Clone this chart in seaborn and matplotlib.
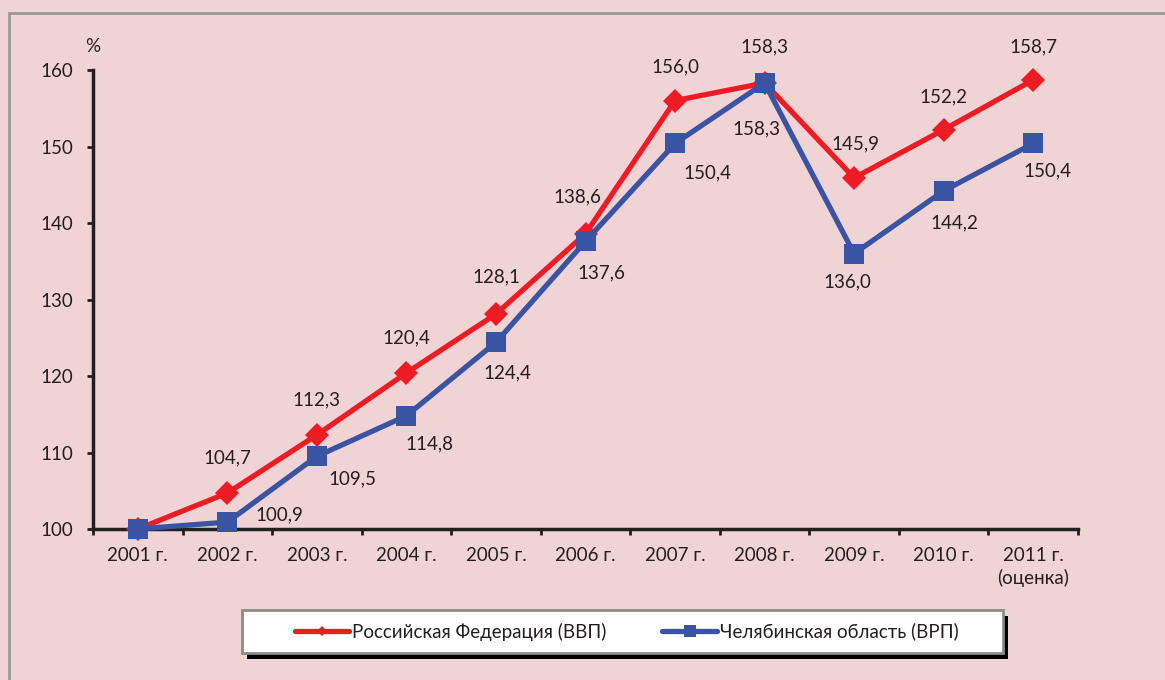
import matplotlib
matplotlib.use("Agg")
import matplotlib.pyplot as plt
import seaborn as sns
import pandas as pd
from matplotlib.patches import Rectangle

years = ["2001 г.", "2002 г.", "2003 г.", "2004 г.", "2005 г.", "2006 г.",
         "2007 г.", "2008 г.", "2009 г.", "2010 г.", "2011 г.\n(оценка)"]
rf_label = "Российская Федерация (ВВП)"
ch_label = "Челябинская область (ВРП)"
rf_values = [100.0, 104.7, 112.3, 120.4, 128.1, 138.6, 156.0, 158.3, 145.9, 152.2, 158.7]
ch_values = [100.0, 100.9, 109.5, 114.8, 124.4, 137.6, 150.4, 158.3, 136.0, 144.2, 150.4]
yticks = [100, 110, 120, 130, 140, 150, 160]

# label offsets in pixels (dx, dy; dy positive = up)
rf_offsets = [None, (0, 35), (0, 35), (0, 35), (0, 37), (-8, 37), (0, 34), (0, 36), (1, 34), (0, 33), (0, 33)]
ch_offsets = [None, (52, 7), (36, -23), (23, -28), (11, -31), (16, -32), (32, -29), (-8, -46), (-7, -28), (11, -32), (14, -27)]

bg = "#F0D3D4"
red = "#ED1C24"
blue = "#3A54A4"
dark = "#231F20"
FS = 13.5

sns.set_theme(style="white")
plt.rcParams["font.family"] = ["Lato", "DejaVu Sans"]

df = pd.DataFrame({
    "x": list(range(len(years))) * 2,
    "value": rf_values + ch_values,
    "series": [rf_label] * len(years) + [ch_label] * len(years),
})

fig = plt.figure(figsize=(11.65, 6.8), dpi=100, facecolor=bg)
ax = fig.add_axes([93 / 1165, 1 - 529 / 680, 985 / 1165, 459 / 680])
ax.set_facecolor(bg)

sns.lineplot(data=df, x="x", y="value", hue="series", style="series",
             palette={rf_label: red, ch_label: blue},
             markers={rf_label: "D", ch_label: "s"}, dashes=False,
             linewidth=3.8, markersize=14, markeredgewidth=0, ax=ax, legend=False)
for line in ax.lines:
    line.set_clip_on(False)
    line.set_zorder(3)
    if line.get_marker() == "D":
        line.set_markersize(12)
    else:
        line.set_markersize(14)

px = 0.72
for i, (v, off) in enumerate(zip(rf_values, rf_offsets)):
    if off is None:
        continue
    ax.annotate(f"{v:.1f}".replace(".", ","), (i, v), xytext=(off[0] * px, off[1] * px),
                textcoords="offset points", ha="center", va="center", fontsize=FS, color=dark)
for i, (v, off) in enumerate(zip(ch_values, ch_offsets)):
    if off is None:
        continue
    ax.annotate(f"{v:.1f}".replace(".", ","), (i, v), xytext=(off[0] * px, off[1] * px),
                textcoords="offset points", ha="center", va="center", fontsize=FS, color=dark)

ax.set_xlim(-0.5, len(years) - 0.5)
ax.set_ylim(100, 160)
ax.set_yticks(yticks)
ax.set_yticklabels([str(t) for t in yticks], fontsize=FS, color=dark)
ax.set_xticks(range(len(years)))
ax.set_xticklabels(years, fontsize=FS, color=dark, linespacing=1.35, va="top")
ax.set_xticks([i + 0.5 for i in range(-1, len(years))], minor=True)
ax.tick_params(axis="x", which="major", bottom=True, length=0, pad=13)
ax.tick_params(axis="x", which="minor", bottom=True, length=4.5, width=2, color=dark, direction="out")
ax.tick_params(axis="y", which="major", left=True, length=4.5, width=2, color=dark, direction="out", pad=10)
ax.set_xlabel("")
ax.set_ylabel("")
for s in ["top", "right"]:
    ax.spines[s].set_visible(False)
for s in ["left", "bottom"]:
    ax.spines[s].set_color(dark)
    ax.spines[s].set_linewidth(2.5)
    ax.spines[s].set_zorder(1)
ax.text(93 / 1165, 1 - 47 / 680, "%", transform=fig.transFigure, ha="center", va="center",
        fontsize=FS, color=dark)

# outer frame
fig.patches.append(Rectangle((9 / 1165, -0.2), 1.2, 1.2 - 13 / 680, transform=fig.transFigure,
                             fill=False, edgecolor="#999999", linewidth=2, zorder=0))

# legend box with black shadow
lx0, lx1, ly0, ly1 = 242, 1003, 610, 653
fig.patches.append(Rectangle(((lx0 + 5) / 1165, 1 - (ly1 + 6) / 680), (lx1 - lx0) / 1165,
                             (ly1 - ly0) / 680, transform=fig.transFigure,
                             facecolor="black", edgecolor="none", zorder=1))
fig.patches.append(Rectangle((lx0 / 1165, 1 - ly1 / 680), (lx1 - lx0) / 1165,
                             (ly1 - ly0) / 680, transform=fig.transFigure,
                             facecolor="white", edgecolor="#8C8C8C", linewidth=2, zorder=2))

handles = [
    plt.Line2D([], [], color=red, linewidth=3.8, marker="D", markersize=5, markeredgewidth=0),
    plt.Line2D([], [], color=blue, linewidth=3.8, marker="s", markersize=8, markeredgewidth=0),
]
leg = fig.legend(handles, [rf_label, ch_label], loc="center",
                 bbox_to_anchor=((lx0 + lx1) / 2 / 1165 + 4 / 1165, 1 - (ly0 + ly1) / 2 / 680),
                 ncol=2, fontsize=FS, frameon=False, handlelength=2.9, handletextpad=0.15,
                 columnspacing=3.0, borderpad=0.3, borderaxespad=0)
leg.set_zorder(5)
for t in leg.get_texts():
    t.set_color(dark)

fig.savefig("out.png", dpi=100, facecolor=bg)
